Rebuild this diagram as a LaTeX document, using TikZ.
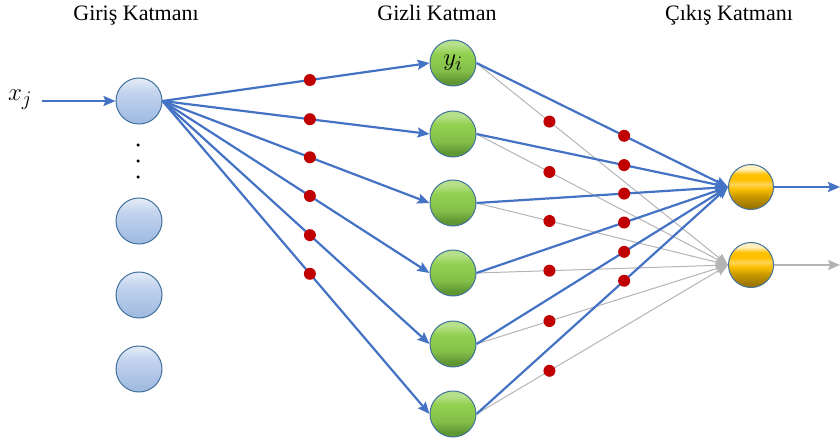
\documentclass[tikz,border=0pt]{standalone}
\usepackage{fontspec}
\setmainfont{Liberation Serif}
\usetikzlibrary{arrows.meta}
\definecolor{lblue}{HTML}{4472C4}
\definecolor{lgray}{HTML}{B4B4B4}
\definecolor{dred}{HTML}{C00000}
\definecolor{nborder}{HTML}{41719C}
\definecolor{ib0}{HTML}{A3BCE2}
\definecolor{ib1}{HTML}{C3D4EE}
\definecolor{ib2}{HTML}{E6EDF8}
\definecolor{gr0}{HTML}{5F9632}
\definecolor{gr1}{HTML}{84C04A}
\definecolor{gr2}{HTML}{92D050}
\definecolor{gr3}{HTML}{B6E08C}
\definecolor{go0}{HTML}{9C7400}
\definecolor{go1}{HTML}{C99A00}
\definecolor{go2}{HTML}{FFC000}
\definecolor{go3}{HTML}{FFD55A}
\definecolor{go4}{HTML}{FFF0C0}
\pgfdeclareverticalshading{inball}{100bp}{color(0bp)=(ib0); color(30bp)=(ib0); color(60bp)=(ib1); color(75bp)=(ib2); color(100bp)=(ib2)}
\pgfdeclareverticalshading{grball}{100bp}{color(0bp)=(gr0); color(30bp)=(gr0); color(42bp)=(gr1); color(60bp)=(gr2); color(70bp)=(gr3); color(100bp)=(gr3)}
\pgfdeclareverticalshading{goball}{100bp}{color(0bp)=(go0); color(28bp)=(go0); color(40bp)=(go1); color(48bp)=(go2); color(53bp)=(go3); color(58bp)=(go2); color(64bp)=(go2); color(70bp)=(go4); color(100bp)=(go4)}
\tikzset{
  innode/.style={circle,draw=nborder,line width=1pt,minimum size=46pt,inner sep=0pt,shading=inball},
  hidnode/.style={circle,draw=nborder,line width=1pt,minimum size=46pt,inner sep=0pt,shading=grball},
  outnode/.style={circle,draw=nborder,line width=1pt,minimum size=45pt,inner sep=0pt,shading=goball},
  head/.style={font=\fontsize{22}{24}\selectfont,anchor=base},
  blueline/.style={draw=lblue,line width=2.2pt,-{Stealth[length=12pt,width=10pt,inset=2pt]}},
  grayline/.style={draw=lgray,line width=1pt,-{Stealth[length=12pt,width=10pt,inset=2pt]}},
  rdot/.style={circle,fill=dred,inner sep=0pt,minimum size=12pt},
  vdot/.style={circle,fill=black,inner sep=0pt,minimum size=3.5pt}
}
\begin{document}
\begin{tikzpicture}[x=1pt,y=-1pt]
\useasboundingbox (0,0) rectangle (840,441);
% headings
\node[head] (h1) at (136,21) {Giriş Katmanı};
\node[head] (h2) at (437,21) {Gizli Katman};
\node[head] (h3) at (729,21) {Çıkış Katmanı};
% input
\node (xj) at (20,100) {\fontsize{30}{32}\selectfont$x_j$};
\node[innode] (i1) at (139,101) {};
\node[innode] (i2) at (139,221) {};
\node[innode] (i3) at (139,295) {};
\node[innode] (i4) at (139,369) {};
\node[vdot] (d1) at (138,145) {};
\node[vdot] (d2) at (138,161) {};
\node[vdot] (d3) at (138,177) {};
% hidden
\node[hidnode] (h1n) at (453,63) {\fontsize{28}{30}\selectfont$y_i$};
\node[hidnode] (h2n) at (453,134) {};
\node[hidnode] (h3n) at (453,203) {};
\node[hidnode] (h4n) at (453,273) {};
\node[hidnode] (h5n) at (453,344) {};
\node[hidnode] (h6n) at (453,414) {};
% output
\node[outnode] (o1) at (751,187) {};
\node[outnode] (o2) at (751,265) {};
\coordinate (e1) at (840,187);
\coordinate (e2) at (840,265);
% input arrow
\draw[blueline] (42,101) -- (i1.west);
% gray lines hidden -> o2
\foreach \h/\k in {h1n/1,h2n/2,h3n/3,h4n/4,h5n/5,h6n/6}{
  \draw[grayline] (\h.east) -- node[pos=0.29,rdot] (g\k) {} (o2.west);
}
% blue lines hidden -> o1
\foreach \h/\k in {h1n/1,h2n/2,h3n/3,h4n/4,h5n/5,h6n/6}{
  \draw[blueline] (\h.east) -- node[pos=0.587,rdot] (b\k) {} (o1.west);
}
% input -> hidden
\foreach \h/\k in {h1n/1,h2n/2,h3n/3,h4n/4,h5n/5,h6n/6}{
  \draw[blueline] (i1.east) -- node[pos=0.552,rdot] (a\k) {} (\h.west);
}
% outputs
\draw[blueline] (o1.east) -- (e1);
\draw[grayline,line width=2pt] (o2.east) -- (e2);
\end{tikzpicture}
\end{document}
